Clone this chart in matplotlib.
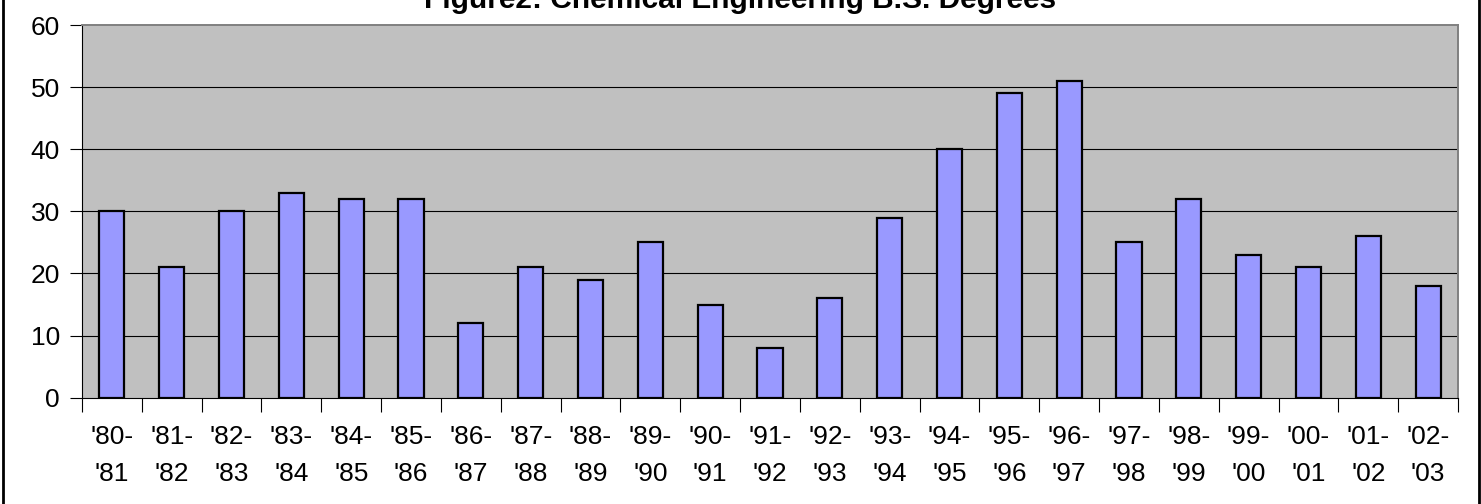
import matplotlib
matplotlib.use("Agg")
import matplotlib.pyplot as plt
from matplotlib.lines import Line2D

plt.rcParams['font.family'] = ['Liberation Sans', 'DejaVu Sans']

# Academic years and B.S. degrees awarded
years = ["'80-\n'81", "'81-\n'82", "'82-\n'83", "'83-\n'84", "'84-\n'85", "'85-\n'86",
         "'86-\n'87", "'87-\n'88", "'88-\n'89", "'89-\n'90", "'90-\n'91", "'91-\n'92",
         "'92-\n'93", "'93-\n'94", "'94-\n'95", "'95-\n'96", "'96-\n'97", "'97-\n'98",
         "'98-\n'99", "'99-\n'00", "'00-\n'01", "'01-\n'02", "'02-\n'03"]
degrees = [30, 21, 30, 33, 32, 32, 12, 21, 19, 25, 15, 8, 16, 29, 40, 49, 51, 25, 32, 23, 21, 26, 18]
y_ticks = [0, 10, 20, 30, 40, 50, 60]

W, H = 1481, 504
fig = plt.figure(figsize=(W / 100, H / 100), dpi=100)
fig.patch.set_facecolor('white')

ax = fig.add_axes([82 / W, (H - 397.7) / H, (1458 - 82) / W, (397.7 - 25) / H])
ax.set_facecolor('#C0C0C0')

x = list(range(len(years)))
ax.bar(x, degrees, width=0.42, color='#9999FF', edgecolor='black', linewidth=1.6, zorder=3)

ax.set_xlim(-0.5, len(years) - 0.5)
ax.set_ylim(0, 60)

# y axis
ax.set_yticks(y_ticks)
ax.set_yticklabels([str(v) for v in y_ticks])
ax.tick_params(axis='y', direction='out', length=9, width=0.8, color='black',
               labelsize=19, pad=7)
for v in y_ticks[1:-1]:
    ax.axhline(v, color='black', linewidth=0.8, zorder=1)

# x axis: ticks at category boundaries, labels at centres
ax.set_xticks([i - 0.5 for i in range(len(years) + 1)])
ax.set_xticklabels([])
ax.set_xticks(x, minor=True)
ax.set_xticklabels(years, minor=True)
ax.tick_params(axis='x', which='major', direction='out', length=10, width=0.8, color='black')
ax.tick_params(axis='x', which='minor', length=0, labelsize=19, pad=20)
for lbl in ax.get_xticklabels(minor=True):
    lbl.set_linespacing(1.65)

ax.spines['left'].set_color('black')
ax.spines['bottom'].set_color('black')
ax.spines['left'].set_linewidth(0.8)
ax.spines['bottom'].set_linewidth(0.8)
ax.spines['top'].set_color('#808080')
ax.spines['right'].set_color('#808080')
ax.spines['top'].set_linewidth(1.4)
ax.spines['right'].set_linewidth(1.4)

fig.text(0.5, (H - 8) / H, "Figure2: Chemical Engineering B.S. Degrees",
         ha='center', va='baseline', fontsize=21.5, fontweight='bold')

# chart-area border (left and right edges)
fig.add_artist(Line2D([3 / W, 3 / W], [0, 1], color='black', linewidth=2.0,
                      transform=fig.transFigure))
fig.add_artist(Line2D([1478.8 / W, 1478.8 / W], [0, 1], color='black', linewidth=2.0,
                      transform=fig.transFigure))

fig.savefig('out.png', dpi=100)
